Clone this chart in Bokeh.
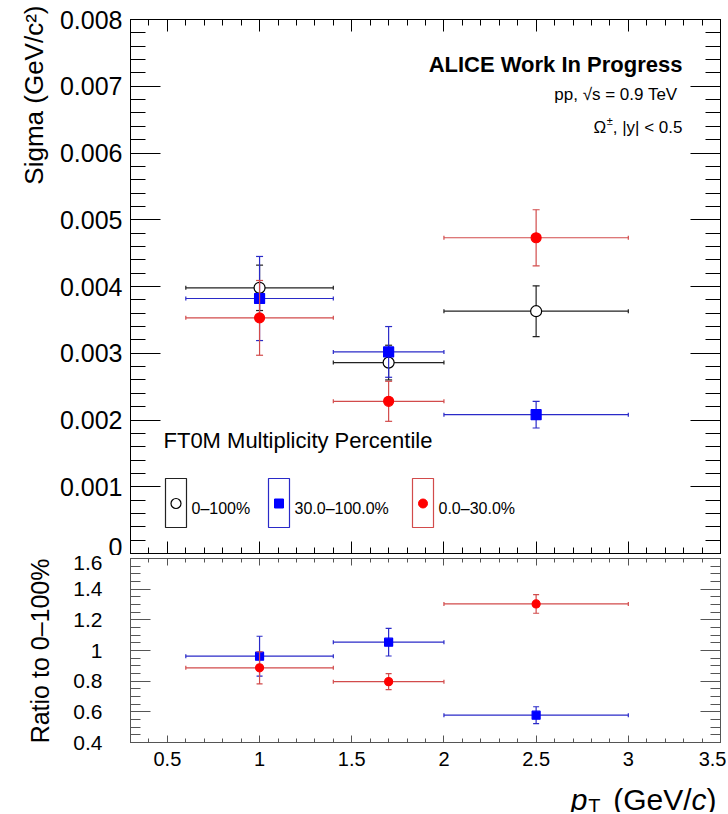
import numpy as np
from bokeh.plotting import figure
from bokeh.layouts import column
from bokeh.models import (SingleIntervalTicker, LinearAxis, CustomJSTickFormatter,
                          Label, Range1d, ColumnDataSource, Title)
from bokeh.embed import file_html
from bokeh.resources import INLINE

FONT = "Liberation Sans"

# ---------------- data ----------------
pt_center = [1.0, 1.7, 2.5]
pt_low = [0.6, 1.4, 2.0]
pt_high = [1.4, 2.0, 3.0]

sigma_0_100 = [0.00398, 0.00286, 0.00363]
sigma_0_100_err = [0.00034, 0.00026, 0.00038]
sigma_30_100 = [0.00382, 0.00302, 0.00208]
sigma_30_100_err = [0.00063, 0.00038, 0.00020]
sigma_0_30 = [0.00353, 0.00228, 0.00473]
sigma_0_30_err = [0.00056, 0.00030, 0.00042]

ratio_30_100 = [0.963, 1.054, 0.578]
ratio_30_100_err = [0.130, 0.090, 0.055]
ratio_0_30 = [0.887, 0.797, 1.304]
ratio_0_30_err = [0.105, 0.052, 0.061]

legend_labels = ["0\u2013100%", "30.0\u2013100.0%", "0.0\u201330.0%"]

X_RANGE = (0.3, 3.5)
TOP_Y = (0.0, 0.008)
BOT_Y = (0.4, 1.6)

FRAME_W = 590
TOP_H = 534
BOT_H = 184
LEFT = 130
RIGHT = 6

BLACK_LINE = "#222222"
BLUE_LINE = "#2a2ac8"
RED_LINE = "#d24b4b"

fmt_code = "return String(Number(tick.toFixed(4)));"


def hide_labels(ax):
    ax.formatter = CustomJSTickFormatter(code="return '';")
    ax.major_label_text_font_size = "1px"
    ax.major_label_text_color = None
    ax.major_label_standoff = 0


def add_axes(p, x_interval, y_interval, y_minor, x_major_in, x_minor_in,
             y_major_in, y_minor_in, color, show_x_labels, y_label_size,
             y_standoff, x_label_size):
    p.add_layout(LinearAxis(), "above")
    p.add_layout(LinearAxis(), "right")
    for ax in p.below + p.above:
        ax.ticker = SingleIntervalTicker(interval=x_interval, num_minor_ticks=5)
        ax.major_tick_in = x_major_in
        ax.minor_tick_in = x_minor_in
    for ax in p.left + p.right:
        ax.ticker = SingleIntervalTicker(interval=y_interval, num_minor_ticks=y_minor)
        ax.major_tick_in = y_major_in
        ax.minor_tick_in = y_minor_in
    for ax in p.below + p.above + p.left + p.right:
        ax.major_tick_out = 0
        ax.minor_tick_out = 0
        ax.axis_line_color = color
        ax.major_tick_line_color = color
        ax.minor_tick_line_color = color
        ax.major_tick_line_width = 1
        ax.minor_tick_line_width = 1
        ax.major_label_text_font = FONT
        hide_labels(ax)
    yl = p.left[0]
    yl.formatter = CustomJSTickFormatter(code=fmt_code)
    yl.major_label_text_font_size = y_label_size
    yl.major_label_text_color = "black"
    yl.major_label_standoff = y_standoff
    if show_x_labels:
        xb = p.below[0]
        xb.formatter = CustomJSTickFormatter(code=fmt_code)
        xb.major_label_text_font_size = x_label_size
        xb.major_label_text_color = "black"
        xb.major_label_standoff = 9


def make_fig(frame_h, y_range, top_border, bottom_border):
    p = figure(frame_width=FRAME_W, frame_height=frame_h,
               x_range=Range1d(*X_RANGE), y_range=Range1d(*y_range),
               output_backend="svg", toolbar_location=None,
               min_border_left=LEFT, min_border_right=RIGHT,
               min_border_top=top_border, min_border_bottom=bottom_border)
    p.grid.visible = False
    p.background_fill_color = "white"
    p.border_fill_color = "white"
    p.outline_line_color = "black"
    return p


def draw_series(p, y, e, line_color, marker, size, fill, mcolor, lw=1.2, capw=7):
    src = ColumnDataSource(dict(
        x=pt_center, xl=pt_low, xh=pt_high, y=y,
        yl=[a - b for a, b in zip(y, e)], yh=[a + b for a, b in zip(y, e)]))
    p.segment(x0="xl", y0="y", x1="xh", y1="y", source=src, line_color=line_color, line_width=lw)
    p.segment(x0="x", y0="yl", x1="x", y1="yh", source=src, line_color=line_color, line_width=lw)
    for col in ("yl", "yh"):
        p.scatter(x="x", y=col, source=src, marker="dash", size=capw,
                  line_color=line_color, line_width=lw)
    for col in ("xl", "xh"):
        p.scatter(x=col, y="y", source=src, marker="dash", size=4, angle=np.pi / 2,
                  line_color=line_color, line_width=lw)
    p.scatter(x="x", y="y", source=src, marker=marker, size=size,
              fill_color=fill, line_color=mcolor, line_width=1.2)


def lab(p, x, y, text, size, align="left", baseline="alphabetic", style="normal",
        angle=0.0, color="black"):
    p.add_layout(Label(x=x, y=y, x_units="screen", y_units="screen", text=text,
                       text_font=FONT, text_font_size=size, text_align=align,
                       text_baseline=baseline, text_font_style=style, angle=angle,
                       text_color=color))


# ---------------- top panel ----------------
top = make_fig(TOP_H, TOP_Y, 19, 2)
add_axes(top, 0.5, 0.001, 5, 12, 6, 30, 15, "black", False, "25px", 8, "0px")

draw_series(top, sigma_0_100, sigma_0_100_err, BLACK_LINE, "circle", 11, "white", "black")
draw_series(top, sigma_30_100, sigma_30_100_err, BLUE_LINE, "square", 10, "#0000ff", "#0000ff")
draw_series(top, sigma_0_30, sigma_0_30_err, RED_LINE, "circle", 10, "#ff0000", "#ff0000")

# annotation texts (screen units relative to frame)
lab(top, 552, 489, "ALICE Work In Progress", "22px", align="right", style="bold")
lab(top, 547, 459, "pp, \u221As = 0.9 TeV", "17px", align="right")
xr = 552
lab(top, xr, 426, ", |y| < 0.5", "17px", align="right")
xr -= 4.106 * 17
lab(top, xr, 433, "\u00B1", "11px", align="right")
xr -= 0.584 * 11
lab(top, xr, 426, "\u03A9", "17px", align="right")
lab(top, 33, 113, "FT0M Multiplicity Percentile", "22px")


# legend (page pixel -> data helpers)
def fx(px):
    return X_RANGE[0] + (px - 130) / FRAME_W * (X_RANGE[1] - X_RANGE[0])


def fy(py):
    return TOP_Y[0] + (553 - py) / TOP_H * (TOP_Y[1] - TOP_Y[0])


leg_box_left = [165, 268, 412]
leg_colors = [BLACK_LINE, BLUE_LINE, RED_LINE]
top.quad(left=[fx(v) for v in leg_box_left], right=[fx(v + 21) for v in leg_box_left],
         top=fy(478), bottom=fy(527), fill_color=None, line_color=leg_colors, line_width=1.2)
leg_mx = [fx(v + 10.5) for v in leg_box_left]
top.scatter(x=[leg_mx[0]], y=[fy(503)], marker="circle", size=10, fill_color="white",
            line_color="black", line_width=1.2)
top.scatter(x=[leg_mx[1]], y=[fy(503)], marker="square", size=9, fill_color="#0000ff",
            line_color="#0000ff")
top.scatter(x=[leg_mx[2]], y=[fy(503)], marker="circle", size=9, fill_color="#ff0000",
            line_color="#ff0000")
for bx, t in zip(leg_box_left, legend_labels):
    lab(top, bx + 26 - 130, 553 - 508, t, "16px")

# y title
top.add_layout(Title(text="Sigma (GeV/c\u00B2)", align="right", text_font=FONT,
                     text_font_size="26px", text_font_style="normal", text_color="black",
                     standoff=15, offset=-14), "left")

# ---------------- bottom panel ----------------
bot = make_fig(BOT_H, BOT_Y, 3, 32)
add_axes(bot, 0.5, 0.2, 4, 7, 4, 20, 10, "#555555", True, "21px", 28, "20px")
bot.outline_line_color = "#555555"

draw_series(bot, ratio_30_100, ratio_30_100_err, BLUE_LINE, "square", 8, "#0000ff", "#0000ff",
            capw=6)
draw_series(bot, ratio_0_30, ratio_0_30_err, RED_LINE, "circle", 8, "#ff0000", "#ff0000",
            capw=6)

bot.add_layout(Title(text="Ratio to 0\u2013100%", align="right", text_font=FONT,
                     text_font_size="25px", text_font_style="normal", text_color="black",
                     standoff=34, offset=0), "left")

# ---------------- x title strip ----------------
tfig = figure(frame_width=FRAME_W, frame_height=38, x_range=Range1d(0, 1), y_range=Range1d(0, 1),
              output_backend="svg", toolbar_location=None, x_axis_type=None, y_axis_type=None,
              min_border_left=LEFT, min_border_right=RIGHT, min_border_top=0, min_border_bottom=0)
tfig.grid.visible = False
tfig.outline_line_color = None

fs = 30
base_y = 13
xr = 716 - 130
lab(tfig, xr, base_y, ")", f"{fs}px", align="right")
xr -= 0.333 * fs
lab(tfig, xr, base_y, "c", f"{fs}px", align="right", style="italic")
xr -= 0.5 * fs
lab(tfig, xr, base_y, "(GeV/", f"{fs}px", align="right")
xr -= 2.612 * fs + 0.42 * fs
lab(tfig, xr, base_y - 6, "T", "20px", align="right")
xr -= 0.611 * 20 + 1
lab(tfig, xr, base_y, "p", f"{fs}px", align="right", style="italic")

layout = column(top, bot, tfig)
open("out.html", "w").write(file_html(layout, INLINE))
